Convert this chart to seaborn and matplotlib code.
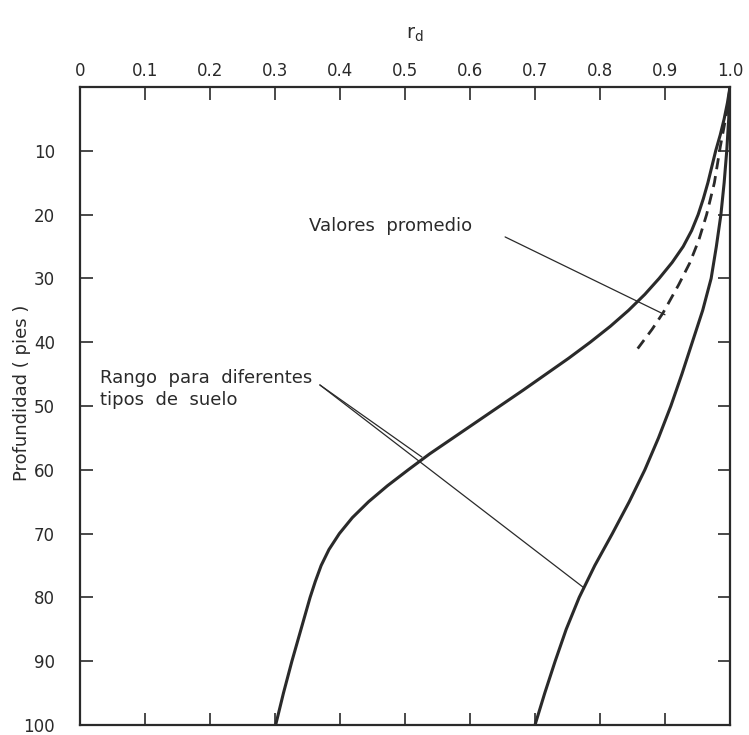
import numpy as np
import pandas as pd
import matplotlib
matplotlib.use("Agg")
import matplotlib.pyplot as plt
import seaborn as sns

# ---- data ----
lower_depth = [0, 2.5, 5, 7.5, 10, 12.5, 15, 17.5, 20, 22.5, 25, 27.5, 30, 32.5, 35, 37.5, 40,
               42.5, 45, 47.5, 50, 52.5, 55, 57.5, 60, 62.5, 65, 67.5, 70, 72.5, 75, 77.5, 80,
               85, 90, 95, 100]
lower_rd = [1.0, 0.996, 0.991, 0.985, 0.978, 0.972, 0.966, 0.959, 0.951, 0.941, 0.928, 0.911,
            0.891, 0.869, 0.844, 0.816, 0.785, 0.752, 0.717, 0.682, 0.646, 0.610, 0.574, 0.538,
            0.505, 0.473, 0.444, 0.419, 0.399, 0.383, 0.371, 0.362, 0.354, 0.340, 0.326, 0.313,
            0.301]

upper_depth = [0, 5, 10, 15, 20, 25, 30, 35, 40, 45, 50, 55, 60, 65, 70, 75, 80, 85, 90, 95, 100]
upper_rd = [1.0, 0.998, 0.995, 0.991, 0.986, 0.979, 0.971, 0.958, 0.942, 0.926, 0.909, 0.890,
            0.869, 0.845, 0.819, 0.792, 0.768, 0.748, 0.731, 0.715, 0.70]

avg_depth = [0, 4, 9.4, 15, 20, 24, 27.6, 31, 35.4, 38, 41]
avg_rd = [1.0, 0.995, 0.985, 0.976, 0.964, 0.952, 0.938, 0.921, 0.897, 0.880, 0.858]

x_ticks = [0, 0.1, 0.2, 0.3, 0.4, 0.5, 0.6, 0.7, 0.8, 0.9, 1.0]
x_ticklabels = ["0", "0.1", "0.2", "0.3", "0.4", "0.5", "0.6", "0.7", "0.8", "0.9", "1.0"]
y_ticks = [10, 20, 30, 40, 50, 60, 70, 80, 90, 100]
y_ticklabels = ["10", "20", "30", "40", "50", "60", "70", "80", "90", "100"]

label_avg = "Valores  promedio"
label_range = "Rango  para  diferentes\ntipos  de  suelo"
# annotation anchor points (rd, depth)
avg_text_end = (0.654, 23.5)
avg_target = (0.90, 35.7)
range_text_end = (0.369, 46.7)
range_targets = [(0.526, 58.0), (0.774, 78.4)]

# ---- plot ----
sns.set_theme(style="white")
plt.rcParams["font.family"] = ["DejaVu Sans"]

fig = plt.figure(figsize=(7.49, 7.35), dpi=100)
ax = fig.add_axes([80 / 749, 1 - 725 / 735, 650 / 749, 638 / 735])

lower = pd.DataFrame({"rd": lower_rd, "depth": lower_depth})
upper = pd.DataFrame({"rd": upper_rd, "depth": upper_depth})
avg = pd.DataFrame({"rd": avg_rd, "depth": avg_depth})

ink = "#2a2a2a"
sns.lineplot(data=lower, x="rd", y="depth", sort=False, estimator=None, ax=ax, color=ink, lw=2.2)
sns.lineplot(data=upper, x="rd", y="depth", sort=False, estimator=None, ax=ax, color=ink, lw=2.2)
sns.lineplot(data=avg, x="rd", y="depth", sort=False, estimator=None, ax=ax, color=ink, lw=2.0,
             linestyle=(0, (4, 2.5)))

ax.set_xlim(0, 1.0)
ax.set_ylim(100, 0)

# annotations
ax.text(0.352, 21.8, label_avg, fontsize=13, color=ink, ha="left", va="center")
ax.plot([avg_text_end[0], avg_target[0]], [avg_text_end[1], avg_target[1]], color=ink, lw=0.9)
ax.text(0.03, 47.3, label_range, fontsize=13, color=ink, ha="left", va="center", linespacing=1.25)
for tx, ty in range_targets:
    ax.plot([range_text_end[0], tx], [range_text_end[1], ty], color=ink, lw=0.9)

# axes styling
for s in ax.spines.values():
    s.set_visible(True)
    s.set_color(ink)
    s.set_linewidth(1.6)

ax.xaxis.tick_top()
ax.set_xticks(x_ticks)
ax.set_xticklabels(x_ticklabels, fontsize=12, color=ink)
ax.set_yticks(y_ticks)
ax.set_yticklabels(y_ticklabels, fontsize=12, color=ink)
ax.tick_params(axis="x", which="both", direction="in", length=9, width=1.2, color=ink,
               top=True, bottom=True, labeltop=True, labelbottom=False, pad=5)
ax.tick_params(axis="y", which="both", direction="in", length=9, width=1.2, color=ink,
               left=True, right=True, labelleft=True, labelright=False, pad=18)

ax.xaxis.set_label_position("top")
ax.set_xlabel(r"$\mathregular{r_d}$", fontsize=14, color=ink)
ax.xaxis.set_label_coords(0.515, 1.075)
ax.set_ylabel("Profundidad ( pies )", fontsize=13, color=ink)
ax.yaxis.set_label_coords(-0.075, 0.52)
ax.grid(False)

fig.savefig("out.png", dpi=100)
